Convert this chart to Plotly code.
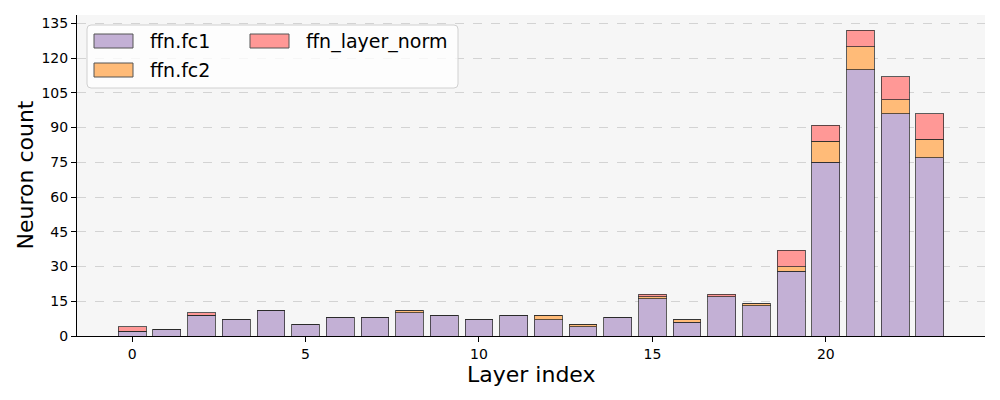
import plotly.graph_objects as go

layers = list(range(24))
fc1 = [2, 3, 9, 7, 11, 5, 8, 8, 10, 9, 7, 9, 7, 4, 8, 16, 6, 17, 13, 28, 75, 115, 96, 77]
fc2 = [0, 0, 0, 0, 0, 0, 0, 0, 1, 0, 0, 0, 2, 1, 0, 1, 1, 0, 1, 2, 9, 10, 6, 8]
norm = [2, 0, 1, 0, 0, 0, 0, 0, 0, 0, 0, 0, 0, 0, 0, 1, 0, 1, 0, 7, 7, 7, 10, 11]
series_names = ["ffn.fc1", "ffn.fc2", "ffn_layer_norm"]
series_colors = ["#c3b0d5", "#ffbb78", "#ff9896"]
y_ticks = [0, 15, 30, 45, 60, 75, 90, 105, 120, 135]
x_ticks = [0, 5, 10, 15, 20]
x_title = "Layer index"
y_title = "Neuron count"

edge = dict(color="rgba(40,40,40,0.75)", width=1)
EDGE_HEX = "#555555"
FONT = "DejaVu Sans"

fig = go.Figure()
for vals, name, col in zip([fc1, fc2, norm], series_names, series_colors):
    fig.add_trace(go.Bar(x=layers, y=vals, name=name, marker=dict(color=col, line=edge),
                         width=0.8, showlegend=False))

# page body has an 8px margin: size the figure so it fits the 1000x400 window
OFF = 8
W, H = 1000 - OFF, 400 - OFF
# target plot area in window pixels: x 77..985, y 15..336
ml, mr, mt, mb = 77 - OFF, 1000 - 985, 15 - OFF, 400 - 336
pw, ph = W - ml - mr, H - mt - mb

def px2x(p):  # window pixel -> paper x
    return (p - OFF - ml) / pw

def px2y(p):  # window pixel -> paper y
    return (H - mb - (p - OFF)) / ph

ymax = max(a + b + c for a, b, c in zip(fc1, fc2, norm)) * 1.05

# legend frame (rounded)
fx0, fx1, fy0, fy1, r = 87, 458, 25, 88, 4
path = (f"M{px2x(fx0 + r)},{px2y(fy0)} L{px2x(fx1 - r)},{px2y(fy0)} "
        f"Q{px2x(fx1)},{px2y(fy0)} {px2x(fx1)},{px2y(fy0 + r)} "
        f"L{px2x(fx1)},{px2y(fy1 - r)} Q{px2x(fx1)},{px2y(fy1)} {px2x(fx1 - r)},{px2y(fy1)} "
        f"L{px2x(fx0 + r)},{px2y(fy1)} Q{px2x(fx0)},{px2y(fy1)} {px2x(fx0)},{px2y(fy1 - r)} "
        f"L{px2x(fx0)},{px2y(fy0 + r)} Q{px2x(fx0)},{px2y(fy0)} {px2x(fx0 + r)},{px2y(fy0)} Z")
fig.add_shape(type="path", xref="paper", yref="paper", path=path,
              fillcolor="rgba(255,255,255,0.8)", line=dict(color="#d0d0d0", width=1), layer="above")

# legend entries: (swatch left x, row center y) in window pixels
slots = [(94, 41), (94, 70), (250, 41)]
for (sx, sy), name, col in zip(slots, series_names, series_colors):
    fig.add_shape(type="rect", xref="paper", yref="paper",
                  x0=px2x(sx), x1=px2x(sx + 39), y0=px2y(sy + 7), y1=px2y(sy - 7),
                  fillcolor=col, line=dict(color=EDGE_HEX, width=1), layer="above")
    fig.add_annotation(xref="paper", yref="paper", x=px2x(sx + 54), y=px2y(sy),
                       xanchor="left", yanchor="middle", text=name, showarrow=False,
                       font=dict(family=FONT, size=19, color="#000"))

# axis titles
fig.add_annotation(xref="paper", yref="paper", x=0.5, y=px2y(374), xanchor="center",
                   yanchor="middle", text=x_title, showarrow=False,
                   font=dict(family=FONT, size=22, color="#000"))
fig.add_annotation(xref="paper", yref="paper", x=px2x(25), y=0.5, xanchor="center",
                   yanchor="middle", text=y_title, showarrow=False, textangle=-90,
                   font=dict(family=FONT, size=22, color="#000"))

fig.update_layout(
    width=W, height=H,
    margin=dict(l=ml, r=mr, t=mt, b=mb, autoexpand=False),
    paper_bgcolor="white", plot_bgcolor="#f6f6f6",
    barmode="stack",
    font=dict(family=FONT, color="#000"),
    xaxis=dict(range=[-1.59, 24.59], tickmode="array", tickvals=x_ticks, automargin=False,
               ticks="outside", ticklen=5, tickcolor="#000", showgrid=False, zeroline=False,
               showline=True, linecolor="#000", linewidth=1,
               tickfont=dict(size=14, family=FONT)),
    yaxis=dict(range=[0, ymax], tickmode="array", tickvals=y_ticks, automargin=False,
               ticks="outside", ticklen=5, tickcolor="#000", zeroline=False,
               showline=True, linecolor="#000", linewidth=1,
               showgrid=True, gridcolor="#d3d3d3", griddash="dash", gridwidth=1,
               tickfont=dict(size=14, family=FONT)),
)

fig.write_html("out.html")
